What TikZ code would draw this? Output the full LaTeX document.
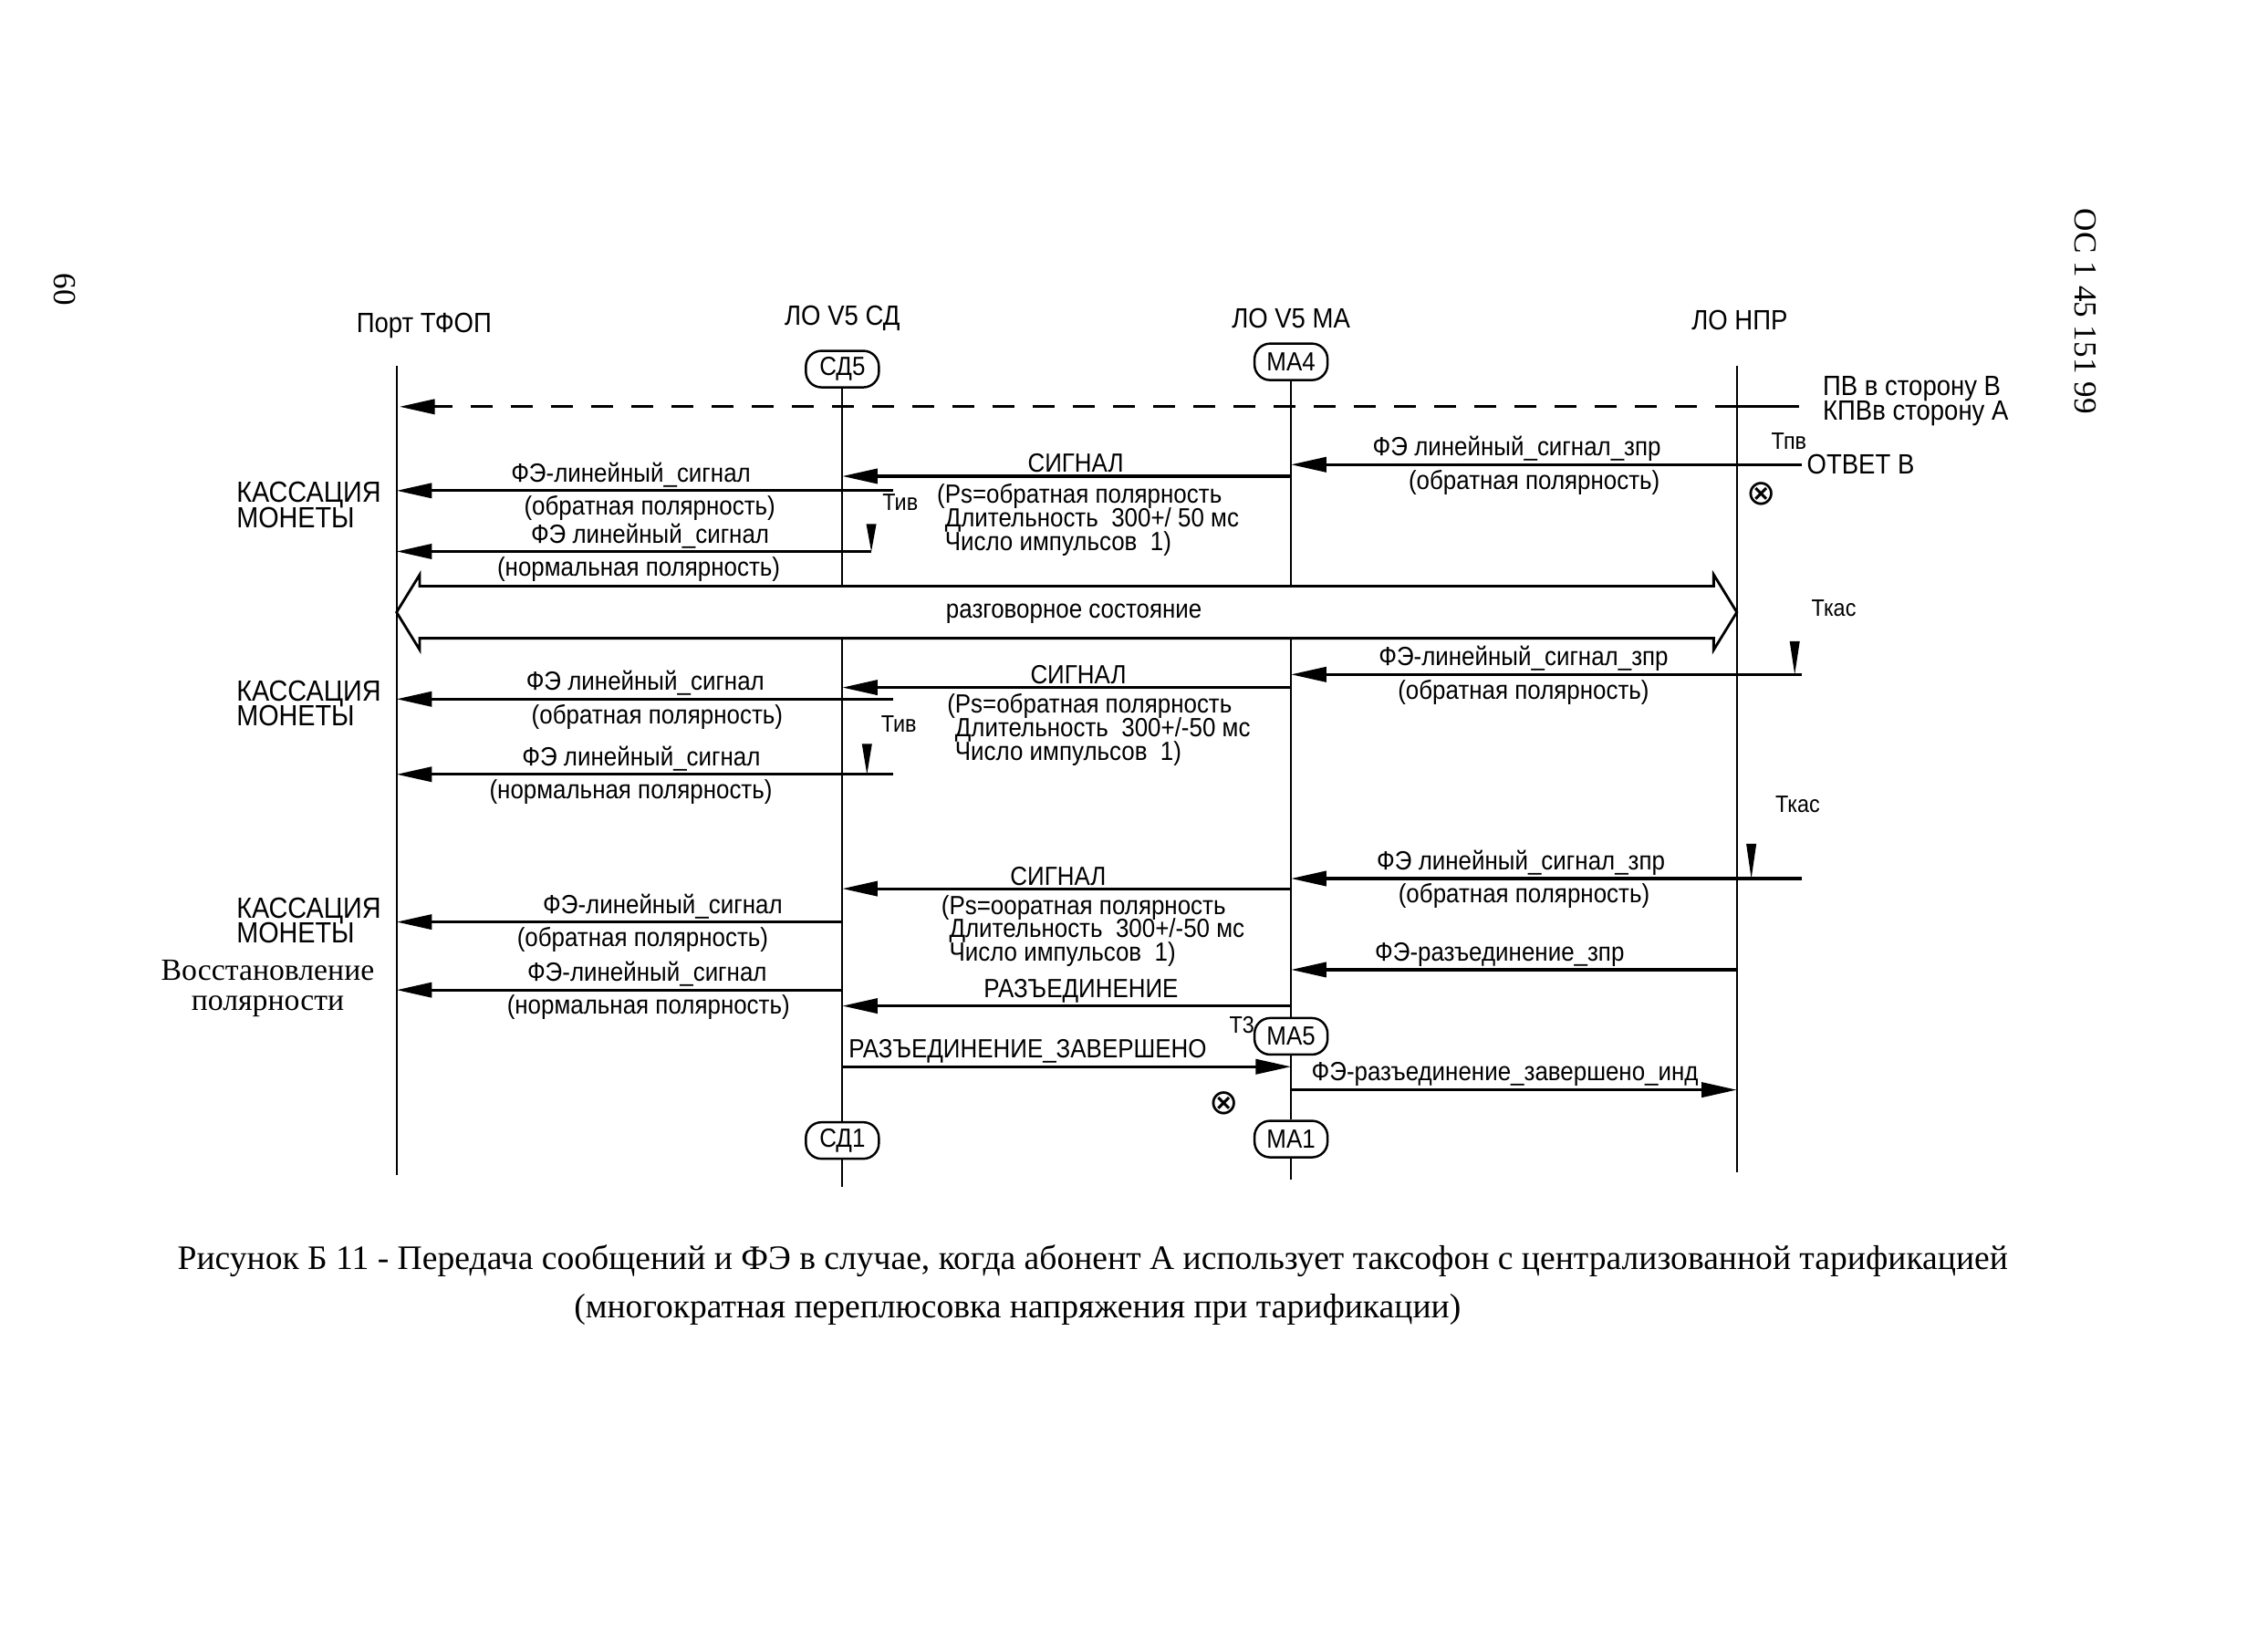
\documentclass[tikz,border=0pt]{standalone}
\usepackage{fontspec}
\setmainfont{Liberation Serif}
\newfontfamily\narrowsf[FakeStretch=0.9]{Liberation Sans}
\newfontfamily\symsf{DejaVu Sans}
\usetikzlibrary{arrows.meta}

\newcommand\tight{\lineskiplimit=-20pt\lineskip=0pt}
\newcommand\lblfont{\narrowsf\fontsize{8.2}{9.5}\selectfont}
\newcommand\parfont{\narrowsf\fontsize{8.2}{7.3}\selectfont\tight}

\begin{document}
\begin{tikzpicture}[x=0.15865mm, y=-0.15865mm,
	life/.style={line width=0.6pt},
	msg/.style={line width=0.9pt, -{Triangle[length=11pt,width=4.6pt]}},
	state/.style={draw, line width=0.7pt, rounded corners=0.17cm, minimum width=0.8cm, minimum height=0.4cm, inner sep=1pt, font=\lblfont},
	head/.style={font=\narrowsf\fontsize{8.7}{10}\selectfont, inner sep=1pt},
	up/.style={above, font=\lblfont, inner sep=0.6pt},
	dn/.style={below, font=\lblfont, inner sep=1.2pt},
	params/.style={font=\parfont, align=left, anchor=north west, inner sep=0pt},
	small/.style={font=\narrowsf\fontsize{7.4}{8.5}\selectfont, inner sep=0pt},
	side/.style={font=\narrowsf\fontsize{8.7}{7.8}\selectfont\tight, align=left, anchor=west, inner sep=0pt},
	coin/.style={font=\narrowsf\fontsize{9.1}{7.9}\selectfont\tight, align=left, anchor=west, inner sep=0pt},
	cross/.style={font=\symsf\fontsize{11}{12}\selectfont, inner sep=0pt}]
	\useasboundingbox (0,0) rectangle (1567,1127.7);

	% heads
	\node[head] (hP) at (293,225) {Порт ТФОП};
	\node[head] (hS) at (582,220) {ЛО V5 СД};
	\node[head] (hM) at (892,220) {ЛО V5 МА};
	\node[head] (hN) at (1202,221) {ЛО НПР};

	% states
	\node[state] (sd5) at (582,255) {СД5};
	\node[state] (ma4) at (892,250) {МА4};
	\node[state] (ma5) at (892,716) {МА5};
	\node[state] (sd1) at (582,788) {СД1};
	\node[state] (ma1) at (892,787) {МА1};

	% lifelines
	\coordinate (P0) at (274,253);
	\coordinate (P1) at (274,812);
	\coordinate (N0) at (1200,253);
	\coordinate (N1) at (1200,810);
	\coordinate (S0) at (582,405);
	\coordinate (S1) at (582,441);
	\coordinate (S2) at (582,820);
	\coordinate (M0) at (892,405);
	\coordinate (M1) at (892,441);
	\coordinate (M2) at (892,815);

	\draw[life] (P0) -- (P1);
	\draw[life] (N0) -- (N1);
	\draw[life] (sd5) -- (S0);
	\draw[life] (S1) -- (sd1) -- (S2);
	\draw[life] (ma4) -- (M0);
	\draw[life] (M1) -- (ma5) -- (ma1) -- (M2);

	% PV
	\coordinate (d0) at (1243,281);
	\coordinate (d1) at (1200,281);
	\coordinate (d2) at (276,281);
	\draw[line width=0.9pt] (d0) -- (d1);
	\draw[msg, dash pattern=on 0.24cm off 0.2cm] (d1) -- (d2);
	\node[side] (pv) at (1259,277) {ПВ в сторону В\\КПВв сторону А};

	% first charge
	\node[small] (tpv) at (1236,305) {Тпв};
	\node[side] (otv) at (1248,321) {ОТВЕТ В};
	\node[cross] (x1) at (1217,341) {⊗};

	\coordinate (a0) at (1245,321);
	\coordinate (a1) at (892,321);
	\draw[msg] (a0) to node[up, pos=0.558] {ФЭ линейный\_сигнал\_зпр}
		node[dn, pos=0.524] {(обратная полярность)} (a1);

	\coordinate (b0) at (892,329);
	\coordinate (b1) at (582,329);
	\draw[msg] (b0) to node[up, pos=0.48] {СИГНАЛ} (b1);
	\node[params] (par1) at (647,334) {(Ps=обратная полярность\\
		\phantom{(}Длительность\ \ 300+/ 50 мс\\
		\phantom{(}Число импульсов\ \ 1)};

	\coordinate (c0) at (617,339);
	\coordinate (c1) at (274,339);
	\draw[msg] (c0) to node[up, pos=0.528] {ФЭ-линейный\_сигнал}
		node[dn, pos=0.49] {(обратная полярность)} (c1);
	\node[small] (tiv1) at (622,347) {Тив};

	\coordinate (t1) at (602,362);
	\coordinate (c2) at (602,381);
	\coordinate (c3) at (274,381);
	\fill (t1) ++(-3.5,0) -- ++(7,0) -- (c2) -- cycle;
	\draw[msg] (c2) to node[up, pos=0.466] {ФЭ линейный\_сигнал}
		node[dn, pos=0.49] {(нормальная полярность)} (c3);
	\node[coin] (kas1) at (163,349) {КАССАЦИЯ\\МОНЕТЫ};

	% talk
	\coordinate (B0) at (274,423);
	\coordinate (B1) at (1200,423);
	\draw[line width=0.8pt] (B0) -- ++(16,-26) -- ++(0,8) -- ++(894,0) -- ++(0,-8) -- (B1)
		-- ++(-16,26) -- ++(0,-8) -- ++(-894,0) -- ++(0,8) -- cycle;
	\node[font=\lblfont] (talk) at (742,424) {разговорное состояние};

	% second charge
	\node[small] (tkas1) at (1267,420) {Ткас};
	\coordinate (t2) at (1240,443);
	\coordinate (e0) at (1245,466);
	\coordinate (e1) at (892,466);
	\fill (t2) ++(-3.5,0) -- ++(7,0) -- (t2 |- e0) -- cycle;
	\draw[msg] (e0) to node[up, pos=0.545] {ФЭ-линейный\_сигнал\_зпр}
		node[dn, pos=0.545] {(обратная полярность)} (e1);

	\coordinate (f0) at (892,475);
	\coordinate (f1) at (582,475);
	\draw[msg] (f0) to node[up, pos=0.474] {СИГНАЛ} (f1);
	\node[params] (par2) at (654,479) {(Ps=обратная полярность\\
		\phantom{(}Длительность\ \ 300+/-50 мс\\
		\phantom{(}Число импульсов\ \ 1)};

	\coordinate (g0) at (617,483);
	\coordinate (g1) at (274,483);
	\draw[msg] (g0) to node[up, pos=0.499] {ФЭ линейный\_сигнал}
		node[dn, pos=0.475] {(обратная полярность)} (g1);
	\node[small] (tiv2) at (621,500) {Тив};

	\coordinate (t3) at (599,514);
	\coordinate (h0) at (617,535);
	\coordinate (h1) at (274,535);
	\fill (t3) ++(-3.5,0) -- ++(7,0) -- (t3 |- h0) -- cycle;
	\draw[msg] (h0) to node[up, pos=0.507] {ФЭ линейный\_сигнал}
		node[dn, pos=0.528] {(нормальная полярность)} (h1);
	\node[coin] (kas2) at (163,486) {КАССАЦИЯ\\МОНЕТЫ};

	% third charge
	\node[small] (tkas2) at (1242,556) {Ткас};
	\coordinate (t4) at (1210,583);
	\coordinate (i0) at (1245,607);
	\coordinate (i1) at (892,607);
	\fill (t4) ++(-3.5,0) -- ++(7,0) -- (t4 |- i0) -- cycle;
	\draw[msg] (i0) to node[up, pos=0.55] {ФЭ линейный\_сигнал\_зпр}
		node[dn, pos=0.544] {(обратная полярность)} (i1);

	\coordinate (j0) at (892,614);
	\coordinate (j1) at (582,614);
	\draw[msg] (j0) to node[up, pos=0.519] {СИГНАЛ} (j1);
	\node[params] (par3) at (650,618) {(Ps=ооратная полярность\\
		\phantom{(}Длительность\ \ 300+/-50 мс\\
		\phantom{(}Число импульсов\ \ 1)};

	\coordinate (k0) at (582,637);
	\coordinate (k1) at (274,637);
	\draw[msg] (k0) to node[up, pos=0.403] {ФЭ-линейный\_сигнал}
		node[dn, pos=0.448] {(обратная полярность)} (k1);
	\node[coin] (kas3) at (163,636) {КАССАЦИЯ\\МОНЕТЫ};

	% release
	\node[align=center, inner sep=0pt, font=\fontsize{9.6}{9.6}\selectfont\tight] (vos) at (185,683) {Восстановление\\полярности};

	\coordinate (l0) at (1200,670);
	\coordinate (l1) at (892,670);
	\draw[msg] (l0) to node[up, pos=0.532] {ФЭ-разъединение\_зпр} (l1);

	\coordinate (m0) at (582,684);
	\coordinate (m1) at (274,684);
	\draw[msg] (m0) to node[up, pos=0.438] {ФЭ-линейный\_сигнал}
		node[dn, pos=0.435] {(нормальная полярность)} (m1);

	\coordinate (n0) at (892,695);
	\coordinate (n1) at (582,695);
	\draw[msg] (n0) to node[up, pos=0.468] {РАЗЪЕДИНЕНИЕ} (n1);
	\node[small] (t3m) at (858,708) {Т3};

	\coordinate (o0) at (582,737);
	\coordinate (o1) at (892,737);
	\draw[msg] (o0) to node[up, pos=0.413] {РАЗЪЕДИНЕНИЕ\_ЗАВЕРШЕНО} (o1);

	\coordinate (p0) at (892,753);
	\coordinate (p1) at (1200,753);
	\draw[msg] (p0) to node[up, pos=0.48] {ФЭ-разъединение\_завершено\_инд} (p1);
	\node[cross] (x2) at (846,762) {⊗};

	% caption
	\node[font=\fontsize{10.7}{13}\selectfont] (cap1) at (755,871) {Рисунок Б 11 - Передача сообщений и ФЭ в случае, когда абонент А использует таксофон с централизованной тарификацией};
	\node[font=\fontsize{10.7}{13}\selectfont] (cap2) at (703,905) {(многократная переплюсовка напряжения при тарификации)};

	\node[rotate=-90, font=\fontsize{10}{12}\selectfont] (doc) at (1441,215) {ОС 1 45 151 99};
	\node[rotate=-90, font=\fontsize{10}{12}\selectfont] (page) at (45,200) {60};

\end{tikzpicture}
\end{document}
